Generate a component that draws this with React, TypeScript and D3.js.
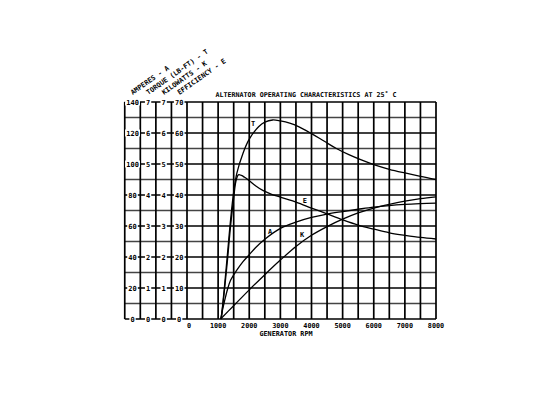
import React from "react";
import * as d3 from "d3";

// ---- data ----
const rpmTicks = [0, 1000, 2000, 3000, 4000, 5000, 6000, 7000, 8000];
const ampTicks = [0, 20, 40, 60, 80, 100, 120, 140];
const torqueTicks = [0, 1, 2, 3, 4, 5, 6, 7];
const kwTicks = [0, 1, 2, 3, 4, 5, 6, 7];
const effTicks = [0, 10, 20, 30, 40, 50, 60, 70];
const axisTitles = ["AMPERES - A", "TORQUE (LB-FT) - T", "KILOWATTS - K", "EFFICIENCY - E"];
const title = "ALTERNATOR OPERATING CHARACTERISTICS AT 25\u02DA C";
const xTitle = "GENERATOR RPM";

const torqueRpm = [1100, 1200, 1300, 1400, 1500, 1600, 1800, 2000, 2300, 2500, 2750, 3000, 3300, 3600, 4000, 4400, 4800, 5200, 5600, 6000, 6500, 7000, 7500, 8000];
const torqueVal = [0, 1.0, 2.1, 3.2, 4.1, 4.7, 5.35, 5.8, 6.2, 6.35, 6.42, 6.39, 6.32, 6.2, 5.98, 5.74, 5.5, 5.3, 5.13, 4.98, 4.83, 4.71, 4.6, 4.5];

const effRpm = [1100, 1200, 1300, 1400, 1500, 1570, 1650, 1750, 1850, 2000, 2200, 2450, 2700, 3000, 3500, 4000, 4500, 5000, 5500, 6000, 6500, 7000, 7500, 8000];
const effVal = [0, 9, 19, 30, 39, 44.3, 46.5, 46.3, 45.7, 44.6, 43, 41.4, 40.3, 39.3, 37.7, 35.8, 33.9, 32, 30.3, 29, 27.8, 27, 26.3, 25.8];

const ampRpm = [1080, 1200, 1300, 1400, 1600, 1800, 2000, 2200, 2500, 3000, 3500, 4000, 4500, 5000, 5500, 6000, 6500, 7000, 7500, 8000];
const ampVal = [0, 11, 19, 25, 31.5, 37, 41.5, 46, 51.5, 58.5, 62.5, 65.5, 67.7, 69.3, 70.8, 72.2, 73.2, 73.9, 74.4, 74.8];

const kwRpm = [1080, 1500, 2000, 2500, 3000, 3500, 4000, 4500, 5000, 5500, 6000, 6500, 7000, 7500, 8000];
const kwVal = [0, 0.43, 0.94, 1.43, 1.9, 2.34, 2.7, 2.98, 3.22, 3.42, 3.58, 3.7, 3.8, 3.88, 3.94];

// curve label anchors (rpm, value in the curve's own unit)
const curveLabels = [
  { text: "T", rpm: 2120, value: 6.3, axis: "torque" },
  { text: "E", rpm: 3790, value: 38.3, axis: "eff" },
  { text: "A", rpm: 2670, value: 56.5, axis: "amp" },
  { text: "K", rpm: 3700, value: 2.72, axis: "kw" },
];

// ---- layout ----
const W = 543, H = 400;
const left = 187, right = 436, top = 102, bottom = 319;
const cell = (right - left) / 16;
const FONT = "DejaVu Sans Mono, monospace";

export default function App() {
  const x = d3.scaleLinear().domain([0, 8000]).range([left, right]);
  const yAmp = d3.scaleLinear().domain([0, 140]).range([bottom, top]);
  const yT = d3.scaleLinear().domain([0, 7]).range([bottom, top]);
  const yK = d3.scaleLinear().domain([0, 7]).range([bottom, top]);
  const yE = d3.scaleLinear().domain([0, 70]).range([bottom, top]);
  const scales: Record<string, d3.ScaleLinear<number, number>> = { amp: yAmp, torque: yT, kw: yK, eff: yE };

  const mk = (xs: number[], ys: number[], ys2: d3.ScaleLinear<number, number>) =>
    d3.line<number>().x((d, i) => x(xs[i])).y((d) => ys2(d)).curve(d3.curveCatmullRom.alpha(0.5))(ys) || "";

  const axisXs = [0, 1, 2, 3].map((k) => left - cell * (4 - k));
  const axisTickSets = [ampTicks, torqueTicks, kwTicks, effTicks];
  const axisScales = [yAmp, yT, yK, yE];

  const vLines = d3.range(0, 8001, 500);
  const hLines = d3.range(0, 141, 10);

  return (
    <svg width={W} height={H} style={{ position: "absolute", left: 0, top: 0, background: "#fff" }}>
      <rect width={W} height={H} fill="#fff" />
      {hLines.map((v) => (
        <line key={"h" + v} x1={axisXs[0]} x2={right} y1={yAmp(v)} y2={yAmp(v)}
          stroke={v % 20 === 0 ? "#000" : "#444"} strokeWidth={v % 20 === 0 ? 1.6 : 1.3} />
      ))}
      {vLines.map((v) => (
        <line key={"v" + v} x1={x(v)} x2={x(v)} y1={top} y2={bottom} stroke="#000" strokeWidth={1.7} />
      ))}
      {axisXs.map((ax, i) => (
        <line key={"a" + i} x1={ax} x2={ax} y1={top} y2={bottom} stroke="#000" strokeWidth={1.7} />
      ))}
      {axisTickSets.map((ticks, i) =>
        ticks.map((t) => {
          const cx = axisXs[i] + cell / 2;
          const cy = axisScales[i](t);
          const label = String(t);
          const w = label.length * 4.3 + 2;
          return (
            <g key={"t" + i + "-" + t}>
              <rect x={cx - w / 2} y={cy - 3.5} width={w} height={7} fill="#fff" />
              <text x={cx} y={cy + 2.5} textAnchor="middle" fontFamily={FONT} fontWeight="bold" fontSize={7}>{label}</text>
            </g>
          );
        })
      )}
      {axisTitles.map((t, i) => (
        <text key={"at" + i} transform={`translate(${axisXs[i] + 8},${95}) rotate(-35)`}
          fontFamily={FONT} fontWeight="bold" fontSize={6.8}>{t}</text>
      ))}
      <text x={306} y={97} textAnchor="middle" fontFamily={FONT} fontWeight="bold" fontSize={6.7}>{title}</text>
      {rpmTicks.map((r) => (
        <text key={"x" + r} x={x(r) + (r === 0 ? 2 : 0)} y={328} textAnchor="middle" fontFamily={FONT} fontWeight="bold" fontSize={6.8}>{r}</text>
      ))}
      <text x={286} y={336} textAnchor="middle" fontFamily={FONT} fontWeight="bold" fontSize={6.8}>{xTitle}</text>
      <path d={mk(torqueRpm, torqueVal, yT)} fill="none" stroke="#000" strokeWidth={1.3} />
      <path d={mk(effRpm, effVal, yE)} fill="none" stroke="#000" strokeWidth={1.3} />
      <path d={mk(ampRpm, ampVal, yAmp)} fill="none" stroke="#000" strokeWidth={1.3} />
      <path d={mk(kwRpm, kwVal, yK)} fill="none" stroke="#000" strokeWidth={1.3} />
      {curveLabels.map((c) => (
        <text key={"cl" + c.text} x={x(c.rpm)} y={scales[c.axis](c.value) + 2.5} textAnchor="middle"
          fontFamily={FONT} fontWeight="bold" fontSize={7}>{c.text}</text>
      ))}
    </svg>
  );
}
